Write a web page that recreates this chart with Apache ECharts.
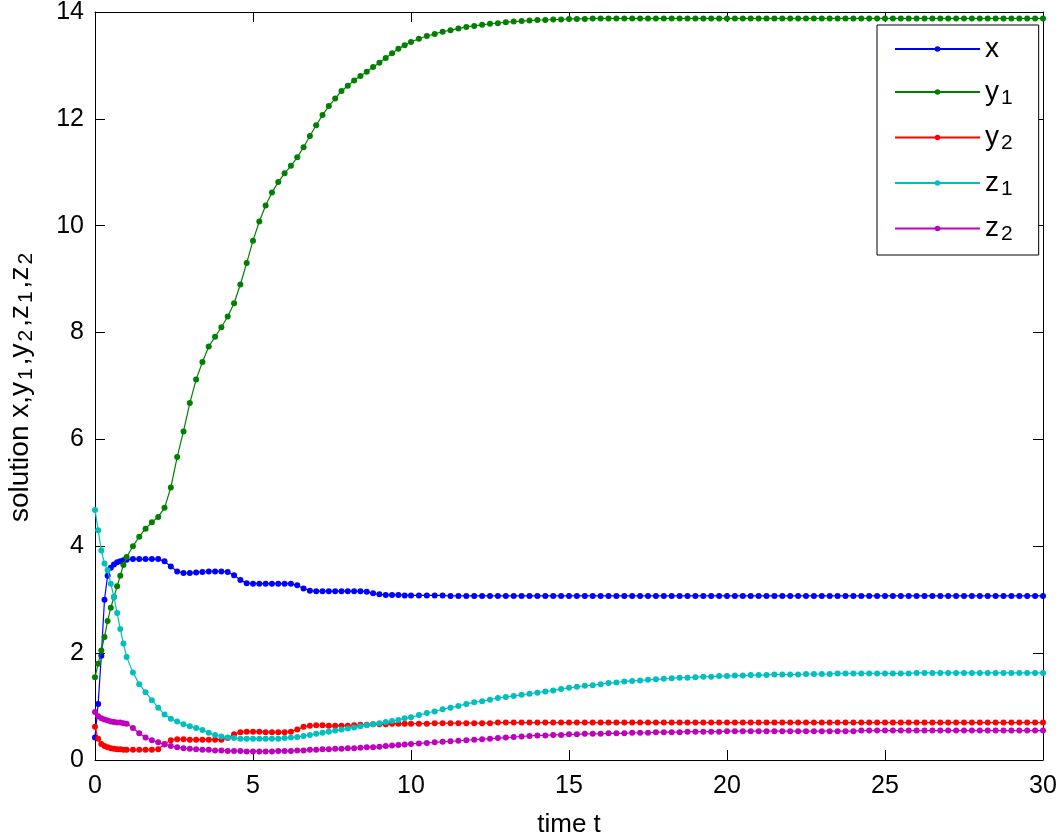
<!DOCTYPE html>
<html>
<head>
<meta charset="utf-8">
<script src="https://cdn.jsdelivr.net/npm/echarts@6/dist/echarts.min.js"></script>
<style>
html,body{margin:0;padding:0;background:#fff;}
#chart{width:1059px;height:833px;}
</style>
</head>
<body>
<div id="chart"></div>
<script>
// time points t
const timeT = [
  0,0.1,0.2,0.3,0.4,0.5,0.6,0.7,0.8,0.9,1,
  1.2,1.4,1.6,1.8,2,2.2,2.4,2.6,2.8,3,
  3.2,3.4,3.6,3.8,4,4.2,4.4,4.6,4.8,5,
  5.2,5.4,5.6,5.8,6,6.2,6.4,6.6,6.8,7,
  7.2,7.4,7.6,7.8,8,8.2,8.4,8.6,8.8,9,
  9.2,9.4,9.6,9.8,10,
  10.25,10.5,10.75,11,11.25,11.5,11.75,12,12.25,12.5,
  12.75,13,13.25,13.5,13.75,14,14.25,14.5,14.75,15,
  15.25,15.5,15.75,16,16.25,16.5,16.75,17,17.25,17.5,
  17.75,18,18.25,18.5,18.75,19,19.25,19.5,19.75,20,
  20.25,20.5,20.75,21,21.25,21.5,21.75,22,22.25,22.5,
  22.75,23,23.25,23.5,23.75,24,24.25,24.5,24.75,25,
  25.25,25.5,25.75,26,26.25,26.5,26.75,27,27.25,27.5,
  27.75,28,28.25,28.5,28.75,29,29.25,29.5,29.75,30
];

// x
const xVals = [
  0.42,1.05,1.95,3.0,3.45,3.6,3.66,3.7,3.72,3.74,3.75,
  3.76,3.76,3.76,3.76,3.76,3.72,3.62,3.53,3.5,3.5,
  3.51,3.52,3.53,3.53,3.53,3.52,3.46,3.37,3.31,3.3,
  3.3,3.3,3.3,3.3,3.3,3.3,3.27,3.21,3.17,3.16,
  3.16,3.16,3.16,3.16,3.16,3.16,3.16,3.15,3.12,3.1,
  3.09,3.09,3.09,3.08,3.08,
  3.08,3.08,3.08,3.08,3.07,3.07,3.07,3.07,3.07,3.07,
  3.07,3.07,3.07,3.07,3.07,3.07,3.07,3.07,3.07,3.07,
  3.07,3.07,3.07,3.07,3.07,3.07,3.07,3.07,3.07,3.07,
  3.07,3.07,3.07,3.07,3.07,3.07,3.07,3.07,3.07,3.07,
  3.07,3.07,3.07,3.07,3.07,3.07,3.07,3.07,3.07,3.07,
  3.07,3.07,3.07,3.07,3.07,3.07,3.07,3.07,3.07,3.07,
  3.07,3.07,3.07,3.07,3.07,3.07,3.07,3.07,3.07,3.07,
  3.07,3.07,3.07,3.07,3.07,3.07,3.07,3.07,3.07,3.07
];

// y1
const y1Vals = [
  1.55,1.8,2.05,2.3,2.6,2.85,3.05,3.25,3.45,3.65,3.8,
  4.0,4.18,4.33,4.45,4.55,4.72,5.1,5.67,6.15,6.68,
  7.12,7.45,7.74,7.92,8.1,8.3,8.55,8.9,9.3,9.72,
  10.08,10.38,10.62,10.82,10.98,11.12,11.28,11.47,11.68,11.88,
  12.07,12.24,12.38,12.52,12.62,12.72,12.8,12.88,12.97,13.05,
  13.14,13.23,13.31,13.38,13.44,
  13.5,13.55,13.59,13.63,13.66,13.69,13.72,13.74,13.76,13.78,
  13.79,13.81,13.82,13.83,13.84,13.85,13.85,13.86,13.86,13.87,
  13.87,13.87,13.88,13.88,13.88,13.88,13.88,13.88,13.88,13.88,
  13.88,13.88,13.88,13.88,13.88,13.88,13.88,13.88,13.88,13.88,
  13.88,13.88,13.88,13.88,13.88,13.88,13.88,13.88,13.88,13.88,
  13.88,13.88,13.88,13.88,13.88,13.88,13.88,13.88,13.88,13.88,
  13.88,13.88,13.88,13.88,13.88,13.88,13.88,13.88,13.88,13.88,
  13.88,13.88,13.88,13.88,13.88,13.88,13.88,13.88,13.88,13.88
];

// y2
const y2Vals = [
  0.62,0.4,0.3,0.26,0.24,0.22,0.21,0.2,0.2,0.19,0.19,
  0.19,0.19,0.19,0.19,0.2,0.3,0.37,0.39,0.39,0.38,
  0.38,0.38,0.38,0.38,0.38,0.41,0.48,0.52,0.53,0.53,
  0.53,0.52,0.52,0.52,0.52,0.53,0.57,0.62,0.64,0.65,
  0.65,0.64,0.64,0.64,0.64,0.65,0.66,0.66,0.67,0.67,
  0.67,0.68,0.68,0.68,0.68,
  0.68,0.68,0.69,0.69,0.69,0.69,0.69,0.69,0.69,0.69,
  0.7,0.7,0.7,0.7,0.7,0.7,0.7,0.7,0.7,0.7,
  0.7,0.7,0.7,0.7,0.7,0.7,0.7,0.7,0.7,0.7,
  0.7,0.7,0.7,0.7,0.7,0.7,0.7,0.7,0.7,0.7,
  0.7,0.7,0.7,0.7,0.7,0.7,0.7,0.7,0.7,0.7,
  0.7,0.7,0.7,0.7,0.7,0.7,0.7,0.7,0.7,0.7,
  0.7,0.7,0.7,0.7,0.7,0.7,0.7,0.7,0.7,0.7,
  0.7,0.7,0.7,0.7,0.7,0.7,0.7,0.7,0.7,0.7
];

// z1
const z1Vals = [
  4.68,4.3,3.92,3.68,3.55,3.3,3.05,2.75,2.45,2.18,1.93,
  1.64,1.42,1.27,1.12,0.98,0.85,0.77,0.72,0.67,0.63,
  0.6,0.56,0.51,0.47,0.44,0.42,0.41,0.4,0.4,0.4,
  0.4,0.4,0.4,0.4,0.41,0.42,0.43,0.45,0.47,0.49,
  0.51,0.53,0.55,0.57,0.59,0.61,0.63,0.65,0.67,0.69,
  0.71,0.73,0.75,0.78,0.8,
  0.84,0.88,0.91,0.95,0.98,1.01,1.05,1.08,1.1,1.13,
  1.16,1.18,1.2,1.22,1.24,1.26,1.28,1.3,1.33,1.35,
  1.37,1.39,1.4,1.42,1.44,1.45,1.47,1.48,1.49,1.5,
  1.51,1.52,1.53,1.54,1.54,1.55,1.56,1.56,1.57,1.57,
  1.58,1.58,1.59,1.59,1.59,1.6,1.6,1.6,1.6,1.61,
  1.61,1.61,1.61,1.62,1.62,1.62,1.62,1.62,1.62,1.62,
  1.62,1.62,1.62,1.63,1.63,1.63,1.63,1.63,1.63,1.63,
  1.63,1.63,1.63,1.63,1.63,1.63,1.63,1.63,1.63,1.63
];

// z2
const z2Vals = [
  0.9,0.82,0.78,0.76,0.74,0.72,0.71,0.7,0.7,0.69,0.68,
  0.6,0.5,0.42,0.37,0.33,0.29,0.26,0.24,0.22,0.21,
  0.2,0.19,0.19,0.18,0.18,0.17,0.17,0.17,0.16,0.16,
  0.16,0.16,0.16,0.17,0.17,0.17,0.18,0.18,0.19,0.19,
  0.2,0.2,0.21,0.21,0.22,0.22,0.23,0.24,0.24,0.25,
  0.26,0.27,0.28,0.29,0.3,
  0.31,0.32,0.33,0.34,0.35,0.36,0.37,0.38,0.39,0.4,
  0.41,0.42,0.43,0.44,0.45,0.46,0.46,0.47,0.47,0.48,
  0.48,0.49,0.49,0.49,0.5,0.5,0.5,0.51,0.51,0.51,
  0.52,0.52,0.52,0.52,0.53,0.53,0.53,0.53,0.53,0.54,
  0.54,0.54,0.54,0.54,0.54,0.54,0.54,0.54,0.54,0.54,
  0.54,0.54,0.54,0.54,0.54,0.54,0.55,0.55,0.55,0.55,
  0.55,0.55,0.55,0.55,0.55,0.55,0.55,0.55,0.55,0.55,
  0.55,0.55,0.55,0.55,0.55,0.55,0.55,0.55,0.55,0.55
];

const seriesNames = ['x','y1','y2','z1','z2'];
const seriesValues = [xVals, y1Vals, y2Vals, z1Vals, z2Vals];
const seriesColors = ['#0000ff','#008000','#ff0000','#00bfbf','#bf00bf'];
const xTicks = {min: 0, max: 30, interval: 5};
const yTicks = {min: 0, max: 14, interval: 2};

const FONT = "'Liberation Sans', Arial, sans-serif";

function richName(name){
  if (name.length > 1) return '{m|' + name[0] + '}{s|' + name.slice(1) + '}';
  return '{m|' + name + '}';
}

const chart = echarts.init(document.getElementById('chart'), null, {renderer:'canvas'});

const axisCommon = {
  axisLine: {show: true, onZero: false, lineStyle: {color: '#000', width: 1}},
  axisTick: {show: true, inside: true, length: 10, lineStyle: {color: '#000', width: 1}},
  splitLine: {show: false},
  minorTick: {show: false}
};

const option = {
  backgroundColor: '#ffffff',
  animation: false,
  textStyle: {fontFamily: FONT},
  grid: {left: 95, top: 12, width: 948, height: 748, containLabel: false, outerBoundsMode: 'none'},
  xAxis: [
    Object.assign({
      type: 'value', position: 'bottom',
      min: xTicks.min, max: xTicks.max, interval: xTicks.interval,
      name: 'time t', nameLocation: 'middle', nameGap: 52,
      nameTextStyle: {fontSize: 26, color: '#000', fontFamily: FONT},
      axisLabel: {fontSize: 25, color: '#000', margin: 14, fontFamily: FONT}
    }, axisCommon),
    Object.assign({
      type: 'value', position: 'top',
      min: xTicks.min, max: xTicks.max, interval: xTicks.interval,
      axisLabel: {show: false}
    }, axisCommon)
  ],
  yAxis: [
    Object.assign({
      type: 'value', position: 'left',
      min: yTicks.min, max: yTicks.max, interval: yTicks.interval,
      name: '{m|solution x,y}{s|1}{m|,y}{s|2}{m|,z}{s|1}{m|,z}{s|2}',
      nameLocation: 'middle', nameRotate: 90, nameGap: 58,
      nameTextStyle: {
        color: '#000', fontFamily: FONT,
        rich: {
          m: {fontSize: 28, color: '#000', fontFamily: FONT, lineHeight: 34},
          s: {fontSize: 21, color: '#000', fontFamily: FONT, lineHeight: 14, verticalAlign: 'bottom', padding: [0, 3, 0, 2]}
        }
      },
      axisLabel: {fontSize: 25, color: '#000', margin: 11, fontFamily: FONT}
    }, axisCommon),
    Object.assign({
      type: 'value', position: 'right',
      min: yTicks.min, max: yTicks.max, interval: yTicks.interval,
      axisLabel: {show: false}
    }, axisCommon)
  ],
  legend: {
    orient: 'vertical',
    left: 877, top: 25,
    backgroundColor: '#fff',
    borderColor: '#000', borderWidth: 1,
    padding: [10, 26, 10, 17],
    itemGap: 15,
    itemWidth: 85, itemHeight: 7,
    data: seriesNames,
    formatter: richName,
    textStyle: {
      color: '#000', fontFamily: FONT,
      rich: {
        m: {fontSize: 28, color: '#000', fontFamily: FONT, lineHeight: 33},
        s: {fontSize: 21, color: '#000', fontFamily: FONT, lineHeight: 14, verticalAlign: 'bottom', padding: [0, 0, 0, 2]}
      }
    }
  },
  series: seriesNames.map((nm, i) => ({
    name: nm,
    type: 'line',
    xAxisIndex: 0, yAxisIndex: 0,
    data: timeT.map((t, k) => [t, seriesValues[i][k]]),
    symbol: 'circle',
    symbolSize: 6,
    showSymbol: true,
    showAllSymbol: true,
    clip: false,
    lineStyle: {color: seriesColors[i], width: 1.2},
    itemStyle: {color: seriesColors[i]},
    emphasis: {disabled: true},
    z: 2 + i
  }))
};

chart.setOption(option);
</script>
</body>
</html>
